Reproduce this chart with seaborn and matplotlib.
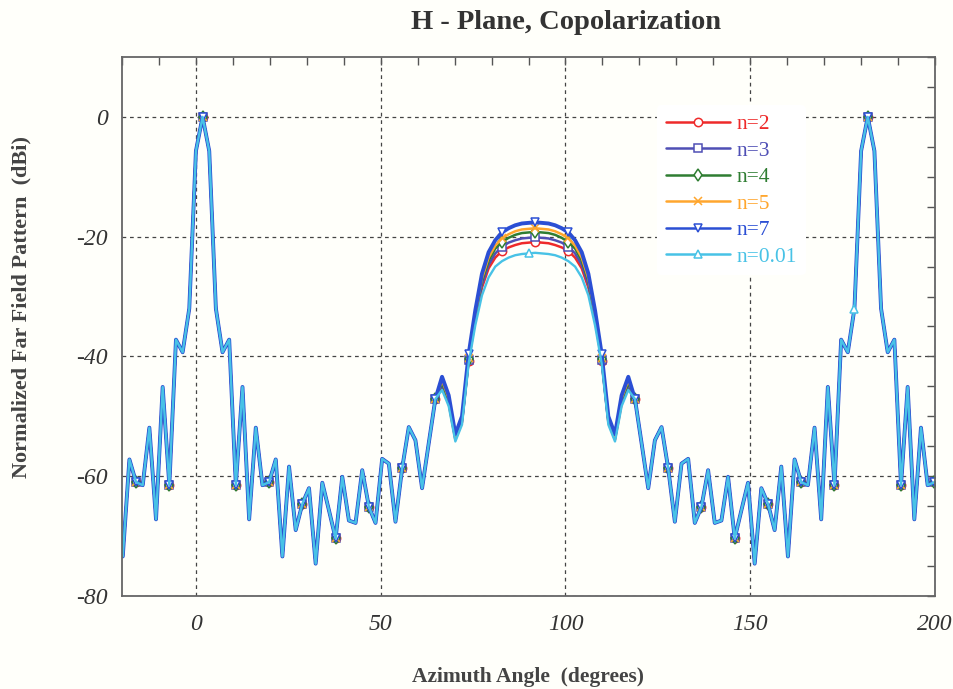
import numpy as np
import pandas as pd
import seaborn as sns
import matplotlib.pyplot as plt
from matplotlib.lines import Line2D
from matplotlib.ticker import MultipleLocator

# sampling grid of the computed pattern (degrees)
angle_start = -19.8
angle_step = 1.8
n_points = 123
angles = np.round(angle_start + angle_step * np.arange(n_points), 1)

# pattern common to all n (dB)
pattern_db = [
    -73.4, -57.2, -61.0, -61.5, -51.9, -67.2, -45.1, -61.5, -37.2, -39.3,
    -32.0, -5.7, 0.0, -5.7, -32.0, -39.3, -37.2, -61.5, -45.1, -67.2,
    -51.9, -61.5, -61.0, -57.2, -73.4, -58.4, -69.0, -64.6, -62.0, -74.6,
    -61.1, -65.7, -70.4, -60.1, -67.4, -67.8, -59.0, -65.1, -67.8, -57.1,
    -57.9, -67.6, -58.7, -51.8, -54.0, -62.0, -54.5, -47.1, -44.4, -47.3,
    -53.5, -50.6, -40.4, -33.1, -27.4, -24.0, -22.0, -20.9, -20.2, -19.7,
    -19.4, -19.3, -19.2, -19.3, -19.4, -19.7, -20.2, -20.9, -22.0, -24.0,
    -27.4, -33.1, -40.4, -50.6, -53.5, -47.3, -44.4, -47.1, -54.5, -62.0,
    -54.0, -51.8, -58.7, -67.6, -57.9, -57.1, -67.8, -65.1, -59.0, -67.8,
    -67.4, -60.1, -70.4, -65.7, -61.1, -74.6, -62.0, -64.6, -69.0, -58.4,
    -73.4, -57.2, -61.0, -61.5, -51.9, -67.2, -45.1, -61.5, -37.2, -39.3,
    -32.0, -5.7, 0.0, -5.7, -32.0, -39.3, -37.2, -61.5, -45.1, -67.2,
    -51.9, -61.5, -61.0,
]

# 66.6 .. 117.0 deg, where the curves for each n separate
window_start = 48
beam_db = {
    'n=2': [-45.1, -47.9, -53.9, -51.0, -40.8,
            -33.9, -28.5, -25.3, -23.5, -22.4, -21.8, -21.4, -21.1, -21.0, -20.9,
            -21.0, -21.1, -21.4, -21.8, -22.4, -23.5, -25.3, -28.5, -33.9,
            -40.8, -51.0, -53.9, -47.9, -45.1],
    'n=3': [-44.8, -47.6, -53.7, -50.8, -40.6,
            -33.5, -28.0, -24.7, -22.8, -21.7, -21.0, -20.6, -20.3, -20.2, -20.1,
            -20.2, -20.3, -20.6, -21.0, -21.7, -22.8, -24.7, -28.0, -33.5,
            -40.6, -50.8, -53.7, -47.6, -44.8],
    'n=4': [-44.4, -47.3, -53.5, -50.6, -40.4,
            -33.1, -27.4, -24.0, -22.0, -20.9, -20.2, -19.7, -19.4, -19.3, -19.2,
            -19.3, -19.4, -19.7, -20.2, -20.9, -22.0, -24.0, -27.4, -33.1,
            -40.4, -50.6, -53.5, -47.3, -44.4],
    'n=5': [-44.0, -47.0, -53.3, -50.4, -40.2,
            -32.8, -27.0, -23.5, -21.5, -20.3, -19.6, -19.1, -18.8, -18.7, -18.6,
            -18.7, -18.8, -19.1, -19.6, -20.3, -21.5, -23.5, -27.0, -32.8,
            -40.2, -50.4, -53.3, -47.0, -44.0],
    'n=7': [-43.4, -46.5, -53.0, -50.0, -39.6,
            -32.3, -26.2, -22.6, -20.6, -19.3, -18.6, -18.1, -17.8, -17.7, -17.6,
            -17.7, -17.8, -18.1, -18.6, -19.3, -20.6, -22.6, -26.2, -32.3,
            -39.6, -50.0, -53.0, -46.5, -43.4],
    'n=0.01': [-45.6, -48.3, -54.2, -51.4, -41.2,
               -34.8, -29.8, -26.8, -25.0, -24.1, -23.5, -23.1, -22.9, -22.8, -22.7,
               -22.8, -22.9, -23.1, -23.5, -24.1, -25.0, -26.8, -29.8, -34.8,
               -41.2, -51.4, -54.2, -48.3, -45.6],
}

labels = ['n=2', 'n=3', 'n=4', 'n=5', 'n=7', 'n=0.01']
colors = ['#ee2a2a', '#4f4fb5', '#2f7d32', '#ffa62e', '#2b4fd4', '#48c2e6']
markers = ['o', 's', 'd', 'x', 'v', '^']
widths = [1.8, 1.8, 1.8, 1.8, 2.8, 1.7]
mark_at = [(2, 5), (2, 5), (2, 5), (2, 5), (2, 5), [61, 110]]

sns.set_style('white')
plt.rcParams['font.family'] = ['Liberation Serif', 'DejaVu Serif']
plt.rcParams['axes.unicode_minus'] = False

fig = plt.figure(figsize=(9.54, 6.89), dpi=100, facecolor='#fffffa')
ax = fig.add_axes([0.1279, 0.135, 0.8522, 0.7823])
ax.set_facecolor('#fffffa')

handles = []
for lab, col, mk, lw, me in zip(labels, colors, markers, widths, mark_at):
    vals = np.array(pattern_db, dtype=float)
    vals[window_start:window_start + len(beam_db[lab])] = beam_db[lab]
    df = pd.DataFrame({'angle': angles, 'dB': vals})
    sns.lineplot(data=df, x='angle', y='dB', ax=ax, color=col, lw=lw,
                 marker=mk, markevery=me, markersize=6, markerfacecolor='white',
                 markeredgecolor=col, markeredgewidth=1.1, legend=False)
    handles.append(Line2D([], [], color=col, lw=1.8, marker=mk, markersize=6,
                          markerfacecolor='white', markeredgecolor=col,
                          markeredgewidth=1.1, label=lab))

ax.set_xlim(-20, 200)
ax.set_ylim(-80, 10)
ax.xaxis.set_major_locator(MultipleLocator(50))
ax.xaxis.set_minor_locator(MultipleLocator(10))
ax.yaxis.set_major_locator(MultipleLocator(20))
ax.yaxis.set_minor_locator(MultipleLocator(5))
ax.grid(True, which='major', ls=(0, (3, 3)), color='#444444', lw=0.9)
ax.tick_params(which='both', direction='in', top=True, right=True,
               length=6, width=1, color='#555555')
ax.tick_params(axis='x', which='major', pad=13, labelsize=17, labelcolor='#333333')
ax.tick_params(axis='y', which='major', pad=10, labelsize=17, labelcolor='#333333')
plt.setp(ax.get_xticklabels() + ax.get_yticklabels(), fontstyle='italic')
for s in ax.spines.values():
    s.set_color('#666666')
    s.set_linewidth(1.3)
ax.set_xlabel('')
ax.set_ylabel('')

leg = ax.legend(handles=handles, loc='upper left', bbox_to_anchor=(0.645, 0.93),
                frameon=True, facecolor='white', edgecolor='none', framealpha=1,
                fontsize=15.5, handlelength=3.0, handletextpad=0.3,
                labelspacing=0.3, borderpad=0.4)
for txt, col in zip(leg.get_texts(), colors):
    txt.set_color(col)

fig.text(0.593, 0.968, 'H - Plane, Copolarization', ha='center', va='center',
         fontsize=20.5, fontweight='bold', color='#333333')
fig.text(0.553, 0.018, 'Azimuth Angle  (degrees)', ha='center', va='center',
         fontsize=15.5, fontweight='bold', color='#444444')
fig.text(0.023, 0.555, 'Normalized Far Field Pattern  (dBi)', ha='center',
         va='center', rotation=90, fontsize=16, fontweight='bold', color='#444444')

fig.savefig('out.png', dpi=100, facecolor=fig.get_facecolor())
